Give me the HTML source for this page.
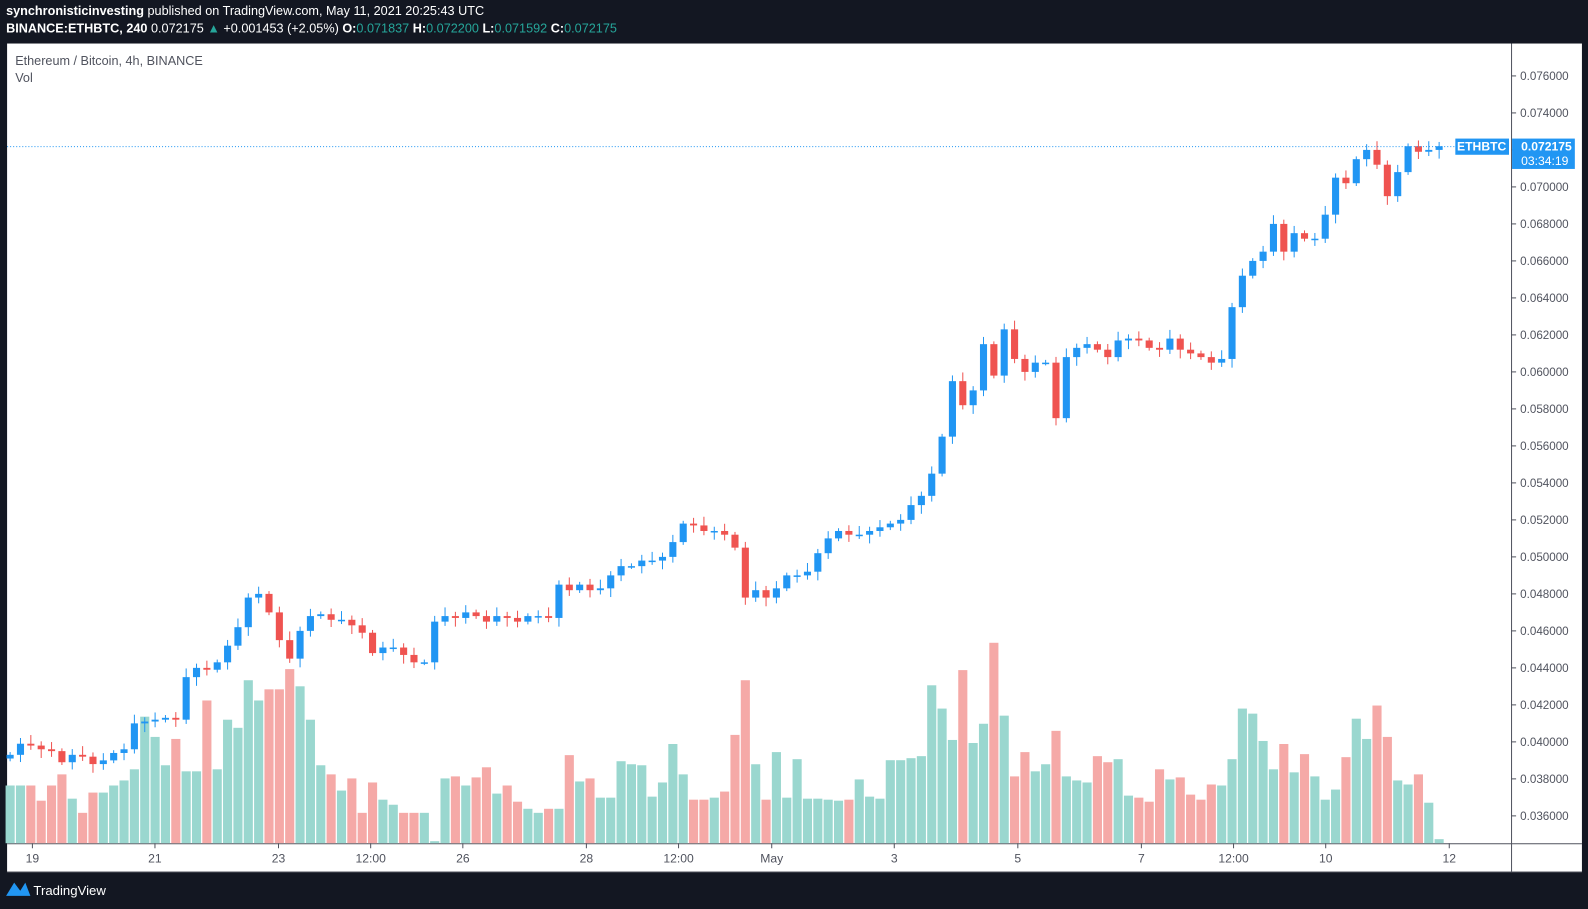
<!DOCTYPE html>
<html><head><meta charset="utf-8"><style>
html,body{margin:0;padding:0;background:#131722;overflow:hidden;width:1588px;height:909px}
#w{position:absolute;left:0;top:0;width:1568px;height:898px;transform-origin:0 0;transform:scale(1.01276,1.01225);font-family:"Liberation Sans",sans-serif}
.t{position:absolute;color:#fff;font-size:12.5px;white-space:nowrap}
</style></head><body><div id="w">
<div class="t" style="left:6px;top:4px"><b>synchronisticinvesting</b> published on TradingView.com, May 11, 2021 20:25:43 UTC</div>
<div class="t" style="left:6px;top:21px"><b>BINANCE:ETHBTC, 240</b> 0.072175 <span style="color:#26a69a">▲</span> +0.001453 (+2.05%) <b>O:</b><span style="color:#26a69a">0.071837</span> <b>H:</b><span style="color:#26a69a">0.072200</span> <b>L:</b><span style="color:#26a69a">0.071592</span> <b>C:</b><span style="color:#26a69a">0.072175</span></div>
<svg id="s" width="1568" height="898" style="position:absolute;left:0;top:0"></svg>
<div class="t" style="left:33px;top:872px;font-size:13px">TradingView</div>
</div>
<script>
const C=[39.3,39.9,39.8,39.6,39.5,38.9,39.3,39.2,38.8,39.0,39.4,39.6,41.0,41.1,41.2,41.3,41.2,43.5,44.0,43.9,44.3,45.2,46.2,47.8,48.0,47.0,45.5,44.5,46.0,46.8,46.9,46.6,46.6,46.3,45.9,44.8,45.1,45.1,44.7,44.3,44.3,46.5,46.8,46.7,47.0,46.8,46.5,46.8,46.7,46.5,46.8,46.8,46.7,48.5,48.2,48.5,48.2,48.3,49.0,49.5,49.5,49.8,49.8,50.0,50.8,51.8,51.7,51.4,51.4,51.2,50.5,47.8,48.2,47.8,48.3,49.0,49.0,49.2,50.2,51.0,51.4,51.2,51.2,51.4,51.6,51.8,52.0,52.8,53.3,54.5,56.5,59.5,58.2,59.0,61.5,59.8,62.3,60.7,60.0,60.5,60.5,57.5,60.8,61.3,61.5,61.2,60.8,61.7,61.8,61.7,61.3,61.2,61.8,61.2,61.0,60.8,60.5,60.7,63.5,65.2,66.0,66.5,68.0,66.5,67.5,67.2,67.2,68.5,70.5,70.2,71.5,72.0,71.2,69.5,70.8,72.2,71.9,72.0,72.2];
const V=[776,776,776,791,776,765,789,803,783,783,776,771,760,708,728,756,730,762,762,692,760,711,719,672,692,681,681,661,678,711,756,765,781,769,803,773,790,795,803,803,803,831,769,767,776,768,758,784,776,792,799,803,799,799,746,772,769,788,788,752,755,756,787,773,735,765,790,790,788,782,726,672,755,790,743,788,750,789,789,790,791,790,770,787,789,751,751,749,747,677,700,731,662,734,715,635,707,767,743,762,755,722,767,771,773,747,753,750,786,788,792,760,770,768,785,790,775,776,750,700,705,732,760,735,763,745,767,790,780,748,710,730,697,728,771,775,765,793,829];
const Y=p=>75+(76-p)/2*36.55;
const N=C.length, dx=(1421-10)/(N-1);
let h='<rect x="7" y="43" width="1555" height="818" fill="#fff"/>';
h+='<line x1="7" y1="833.5" x2="1562" y2="833.5" stroke="#50535e"/><line x1="1492.5" y1="43" x2="1492.5" y2="861" stroke="#50535e"/>';
h+='<line x1="7" y1="861.5" x2="1562" y2="861.5" stroke="#50535e"/>';
const off=V.length-N;
for(let i=0;i<N;i++){const x=10+i*dx;const o=i?C[i-1]:39.1,c=C[i];const up=c>=o;
const vc=up?'#9ad7cf':'#f5a9a7';const vy=(i==N-1)?829:(V[i+(off>0?off:0)]||800);h+=`<rect x="${x-4.5}" y="${vy}" width="9" height="${833-vy}" fill="${vc}"/>`;}
for(let i=0;i<N;i++){const x=10+i*dx;const o=i?C[i-1]:39.1,c=C[i];const up=c>=o;const col=up?'#2196f3':'#ef5350';
const hi=Math.max(o,c)+0.15+((i*7)%5)*0.08,lo=Math.min(o,c)-0.15-((i*3)%5)*0.08;
h+=`<line x1="${x}" y1="${Y(hi)}" x2="${x}" y2="${Y(lo)}" stroke="${col}"/>`;
const t=Y(Math.max(o,c)),b=Y(Math.min(o,c));h+=`<rect x="${x-3.5}" y="${t}" width="7" height="${Math.max(1.5,b-t)}" fill="${col}"/>`;}
h+=`<line x1="7" y1="${Y(72.175)}" x2="1437" y2="${Y(72.175)}" stroke="#2196f3" stroke-dasharray="1 2"/>`;
for(let p=76;p>=36;p-=2){const y=Y(p);h+=`<line x1="1492" y1="${y}" x2="1497" y2="${y}" stroke="#50535e"/><text x="1501" y="${y+4}" font-size="11.5" fill="#50535e">0.0${p}000</text>`;}
[[32,'19'],[153,'21'],[275,'23'],[366,'12:00'],[457,'26'],[579,'28'],[670,'12:00'],[762,'May'],[883,'3'],[1005,'5'],[1127,'7'],[1218,'12:00'],[1309,'10'],[1431,'12']].forEach(([x,l])=>{h+=`<line x1="${x}" y1="833" x2="${x}" y2="838" stroke="#50535e"/><text x="${x}" y="852" font-size="12" fill="#50535e" text-anchor="middle">${l}</text>`;});
const py=Y(72.175);
h+=`<rect x="1437" y="${py-8}" width="53" height="16" fill="#2196f3"/><text x="1463" y="${py+4}" font-size="12" font-weight="bold" fill="#fff" text-anchor="middle">ETHBTC</text>`;
h+=`<rect x="1493" y="${py-8}" width="62" height="30" fill="#2196f3"/><text x="1502" y="${py+4}" font-size="12" font-weight="bold" fill="#fff">0.072175</text><text x="1502" y="${py+18}" font-size="12" fill="#fff">03:34:19</text>`;
h+='<text x="15" y="64" font-size="12.5" fill="#50535e">Ethereum / Bitcoin, 4h, BINANCE</text><text x="15" y="81" font-size="12.5" fill="#50535e">Vol</text>';
h+='<path d="M6 885 L14 872 L20 880 L25 872 L30 885 Z" fill="#2196f3"/>';
document.getElementById('s').innerHTML=h;
</script></body></html>
